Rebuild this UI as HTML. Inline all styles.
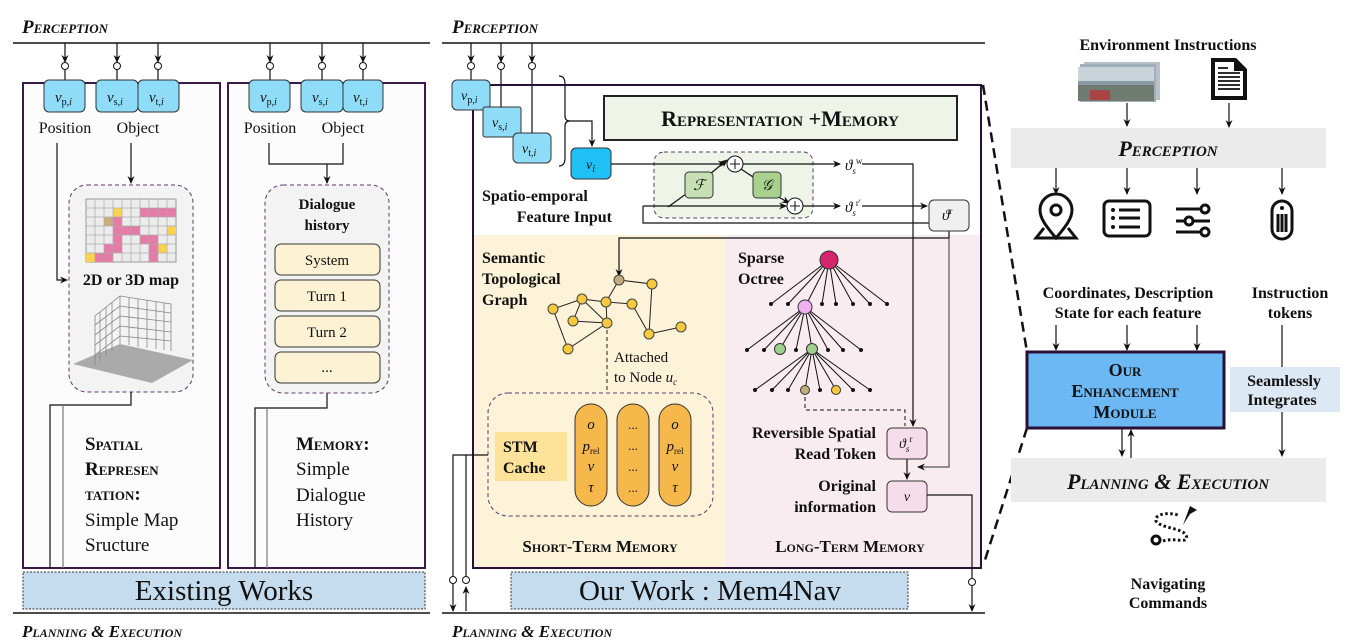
<!DOCTYPE html>
<html><head><meta charset="utf-8"><style>
body{margin:0;background:#fff}
svg{display:block}
text{font-family:"Liberation Serif",serif;fill:#111}
.sc{font-variant:small-caps;font-weight:bold}
.it{font-style:italic}
.b{font-weight:bold}
</style></head><body>
<svg width="1359" height="643" viewBox="0 0 1359 643" xmlns="http://www.w3.org/2000/svg">
<defs>
<marker id="a" markerWidth="8" markerHeight="8" refX="7" refY="4" orient="auto" markerUnits="userSpaceOnUse"><path d="M0,0.5 L8,4 L0,7.5 L2.5,4z" fill="#111"/></marker>
</defs>
<g stroke="#111" stroke-width="1.2" fill="none">
<line x1="13" y1="43" x2="430" y2="43" stroke-width="1.5"/>
<line x1="442" y1="43" x2="985" y2="43" stroke-width="1.5"/>
<line x1="13" y1="613" x2="430" y2="613" stroke-width="1.5"/>
<line x1="442" y1="613" x2="985" y2="613" stroke-width="1.5"/>
</g>
<text x="22" y="33" class="sc it" font-size="19">Perception</text>
<text x="452" y="33" class="sc it" font-size="19">Perception</text>
<text x="22" y="637" class="sc it" font-size="17">Planning &amp; Execution</text>
<text x="452" y="637" class="sc it" font-size="17">Planning &amp; Execution</text>

<!-- Left boxes -->
<rect x="23" y="83" width="197" height="485" fill="#fcfcfc" stroke="#3b1a4a" stroke-width="2"/>
<rect x="228" y="83" width="197" height="485" fill="#fcfcfc" stroke="#3b1a4a" stroke-width="2"/>
<g stroke="#111" stroke-width="1.2" fill="none" marker-end="url(#a)">
<path d="M65,43V62"/><path d="M117,43V62"/><path d="M158,43V62"/><path d="M270,43V62"/><path d="M322,43V62"/><path d="M363,43V62"/>
</g>
<g stroke="#111" stroke-width="1.2" fill="none">
<path d="M65,70V80 M117,70V80 M158,70V80 M270,70V80 M322,70V80 M363,70V80"/>
</g>
<g fill="#fff" stroke="#111" stroke-width="1"><circle cx="65" cy="66" r="3.5"/><circle cx="117" cy="66" r="3.5"/><circle cx="158" cy="66" r="3.5"/><circle cx="270" cy="66" r="3.5"/><circle cx="322" cy="66" r="3.5"/><circle cx="363" cy="66" r="3.5"/></g>
<g fill="#8fdcf8" stroke="#333" stroke-width="1">
<rect x="44" y="80" width="41" height="32" rx="5"/><rect x="96" y="80" width="42" height="32" rx="5"/><rect x="138" y="80" width="41" height="32" rx="5"/>
<rect x="249" y="80" width="41" height="32" rx="5"/><rect x="301" y="80" width="42" height="32" rx="5"/><rect x="343" y="80" width="40" height="32" rx="5"/>
</g>
<g font-size="15" class="it">
<text x="55" y="102">v<tspan font-size="10" font-style="normal" dy="3">p,</tspan><tspan font-size="10">i</tspan></text>
<text x="107" y="102">v<tspan font-size="10" font-style="normal" dy="3">s,</tspan><tspan font-size="10">i</tspan></text>
<text x="149" y="102">v<tspan font-size="10" font-style="normal" dy="3">t,</tspan><tspan font-size="10">i</tspan></text>
<text x="260" y="102">v<tspan font-size="10" font-style="normal" dy="3">p,</tspan><tspan font-size="10">i</tspan></text>
<text x="312" y="102">v<tspan font-size="10" font-style="normal" dy="3">s,</tspan><tspan font-size="10">i</tspan></text>
<text x="353" y="102">v<tspan font-size="10" font-style="normal" dy="3">t,</tspan><tspan font-size="10">i</tspan></text>
</g>
<g font-size="16" text-anchor="middle">
<text x="65" y="133">Position</text><text x="138" y="133">Object</text>
<text x="270" y="133">Position</text><text x="343" y="133">Object</text>
</g>
<rect x="69" y="185" width="124" height="207" rx="18" fill="#f3f3f3" stroke="#5a3a6a" stroke-dasharray="4,3"/>
<g stroke="#111" stroke-width="1.2" fill="none">
<path d="M57,143V280H67" marker-end="url(#a)"/>
<path d="M131,143V183" marker-end="url(#a)"/>
<path d="M131,392V405H50V568"/>
<path d="M63,405V568" stroke="#777"/>
<path d="M269,143V164H343V143"/>
<path d="M327,164V183" marker-end="url(#a)"/>
<path d="M327,393V408H255V568"/>
<path d="M267,408V568" stroke="#777"/>
</g>
<!-- grid -->
<g>
<rect x="86" y="199" width="90" height="63" fill="#ececec" stroke="#999"/>
<g fill="#e67ba8"><rect x="140" y="208" width="36" height="9"/><rect x="113" y="217" width="9" height="9"/><rect x="113" y="226" width="27" height="9"/><rect x="113" y="235" width="9" height="9"/><rect x="104" y="244" width="18" height="9"/><rect x="95" y="253" width="18" height="9"/><rect x="140" y="235" width="18" height="9"/><rect x="149" y="244" width="9" height="18"/></g>
<g fill="#f9d34e"><rect x="113" y="208" width="9" height="9"/><rect x="167" y="226" width="9" height="9"/><rect x="158" y="244" width="9" height="9"/><rect x="86" y="253" width="9" height="9"/></g>
<rect x="104" y="217" width="9" height="9" fill="#c9b07a"/>
<path d="M95,199V262M104,199V262M113,199V262M122,199V262M131,199V262M140,199V262M149,199V262M158,199V262M167,199V262M86,208H176M86,217H176M86,226H176M86,235H176M86,244H176M86,253H176" stroke="#aaa" stroke-width="0.7"/>
</g>
<text x="131" y="285" class="b" font-size="16" text-anchor="middle">2D or 3D map</text>
<!-- 3d -->
<path d="M73,364 L120,344 L193,360 L152,383z" fill="#aaa"/>
<g stroke="#888" stroke-width="0.8" fill="none">
<path d="M95,365V316L120,296V344 M120,296L171,304V351"/>
<path d="M100,361V312M106,356V307M112,351V302M129,297V345M138,299V347M147,300V348M156,301V349M164,303V350"/>
<path d="M95,325L120,306L171,313M95,335L120,316L171,322M95,345L120,326L171,332M95,355L120,336L171,341"/>
</g>
<!-- dialogue -->
<rect x="265" y="185" width="124" height="208" rx="18" fill="#f3f3f3" stroke="#5a3a6a" stroke-dasharray="4,3"/>
<text x="327" y="209" class="b" font-size="15" text-anchor="middle">Dialogue</text>
<text x="327" y="230" class="b" font-size="15" text-anchor="middle">history</text>
<g fill="#fdf3d4" stroke="#333"><rect x="275" y="244" width="105" height="31" rx="6"/><rect x="275" y="280" width="105" height="31" rx="6"/><rect x="275" y="316" width="105" height="31" rx="6"/><rect x="275" y="352" width="105" height="31" rx="6"/></g>
<g font-size="15" text-anchor="middle"><text x="327" y="265">System</text><text x="327" y="301">Turn 1</text><text x="327" y="337">Turn 2</text><text x="327" y="372">...</text></g>
<g font-size="19"><text x="85" y="450" class="sc">Spatial</text><text x="85" y="475" class="sc">Represen</text><text x="85" y="500" class="sc">tation:</text><text x="85" y="526">Simple Map</text><text x="85" y="551">Sructure</text>
<text x="296" y="450" class="sc">Memory:</text><text x="296" y="475">Simple</text><text x="296" y="501">Dialogue</text><text x="296" y="526">History</text></g>
<rect x="23" y="572" width="402" height="37" fill="#c5dcef" stroke="#333" stroke-dasharray="2,1.5"/>
<text x="224" y="600" font-size="29" text-anchor="middle">Existing Works</text>

<!-- Middle -->
<rect x="474" y="235" width="251" height="332" fill="#fdf3d9"/>
<rect x="725" y="235" width="255" height="332" fill="#f9ecf0"/>
<rect x="473" y="85" width="508" height="483" fill="none" stroke="#2a1035" stroke-width="2"/>
<g stroke="#111" stroke-width="1.2" fill="none" marker-end="url(#a)">
<path d="M471,43V62"/><path d="M501,43V62"/><path d="M532,43V62"/>
</g>
<path d="M471,70V80 M501,70V107 M532,70V133" stroke="#111" stroke-width="1.2" fill="none"/>
<g fill="#fff" stroke="#111"><circle cx="471" cy="66" r="3.5"/><circle cx="501" cy="66" r="3.5"/><circle cx="532" cy="66" r="3.5"/></g>
<g fill="#8fdcf8" stroke="#333"><rect x="452" y="80" width="38" height="30" rx="5"/><rect x="483" y="107" width="38" height="30" rx="2"/><rect x="513" y="133" width="38" height="30" rx="5"/></g>
<g font-size="14" class="it">
<text x="461" y="100">v<tspan font-size="10" font-style="normal" dy="3">p,</tspan><tspan font-size="10">i</tspan></text>
<text x="492" y="127">v<tspan font-size="10" font-style="normal" dy="3">s,</tspan><tspan font-size="10">i</tspan></text>
<text x="522" y="153">v<tspan font-size="10" font-style="normal" dy="3">t,</tspan><tspan font-size="10">i</tspan></text>
</g>
<path d="M559,76 Q565,76 565,84 V116 Q565,121 570,121 Q565,121 565,126 V158 Q565,166 559,166" fill="none" stroke="#111" stroke-width="1.2"/>
<path d="M570,121H592V146" fill="none" stroke="#111" stroke-width="1.2" marker-end="url(#a)"/>
<rect x="571" y="148" width="40" height="31" rx="5" fill="#1ec0f5" stroke="#333"/>
<text x="586" y="169" font-size="14" class="it">v<tspan font-size="10" dy="3">i</tspan></text>
<text x="482" y="201" class="b" font-size="16">Spatio-emporal</text>
<text x="612" y="222" class="b" font-size="16" text-anchor="end">Feature Input</text>
<rect x="604" y="96" width="353" height="44" fill="#eef4e8" stroke="#222" stroke-width="2"/>
<text x="780" y="126" class="sc" font-size="22" text-anchor="middle">Representation +Memory</text>
<rect x="654" y="152" width="159" height="66" rx="10" fill="#eef4e8" stroke="#5a3a6a" stroke-dasharray="4,3"/>
<g stroke="#111" stroke-width="1.2" fill="none">
<path d="M611,164H725" marker-end="url(#a)"/>
<path d="M743,164H840" marker-end="url(#a)"/>
<path d="M862,164H913V426" marker-end="url(#a)"/>
<path d="M668,207L686,194"/>
<path d="M710,174L727,160" marker-end="url(#a)"/>
<path d="M741,169L753,177"/>
<path d="M777,196L789,203" marker-end="url(#a)"/>
<path d="M643,206H786" marker-end="url(#a)"/>
<path d="M803,206H840" marker-end="url(#a)"/>
<path d="M862,206H927" marker-end="url(#a)"/>
<path d="M643,206V223H929"/>
<path d="M949,231V238H619V276" marker-end="url(#a)"/>
<path d="M949,238V467H918" stroke="#555" marker-end="url(#a)"/>
<path d="M907,459V479" marker-end="url(#a)"/>
</g>
<g fill="#fff" stroke="#111"><circle cx="735" cy="164" r="8"/><circle cx="795" cy="206" r="8"/></g>
<path d="M735,159V169M730,164H740M795,201V211M790,206H800" stroke="#111"/>
<rect x="685" y="172" width="28" height="26" rx="4" fill="#c6e0b4" stroke="#333"/>
<rect x="753" y="172" width="28" height="26" rx="4" fill="#a9d18e" stroke="#333"/>
<text x="699" y="190" font-size="15" class="it" text-anchor="middle">ℱ</text>
<text x="767" y="190" font-size="15" class="it" text-anchor="middle">𝒢</text>
<text x="845" y="170" font-size="15" class="it">ϑ<tspan font-size="9" dy="4">s</tspan><tspan font-size="9" dy="-10" font-style="normal">w</tspan></text>
<text x="845" y="212" font-size="15" class="it">ϑ<tspan font-size="9" dy="4">s</tspan><tspan font-size="9" dy="-10" font-style="normal">r′</tspan></text>
<rect x="929" y="200" width="40" height="31" rx="5" fill="#f0f0f0" stroke="#333"/>
<text x="942" y="220" font-size="15" class="it">ϑ<tspan font-size="9" dy="-6" font-style="normal">r</tspan></text>
<g class="b" font-size="16"><text x="482" y="263">Semantic</text><text x="482" y="284">Topological</text><text x="482" y="305">Graph</text>
<text x="738" y="263">Sparse</text><text x="738" y="284">Octree</text></g>
<!-- graph -->
<g stroke="#222" stroke-width="1" fill="none">
<path d="M619,280L652,284L649,334L681,327M619,280L606,302L632,304L649,334M606,302L582,299L553,309L568,349L607,323L573,321L582,299L607,323L606,302"/>
<path d="M607,323V392" stroke-dasharray="4,3"/>
</g>
<g fill="#f9c93d" stroke="#444"><circle cx="652" cy="284" r="5"/><circle cx="582" cy="299" r="5"/><circle cx="606" cy="302" r="5"/><circle cx="632" cy="304" r="5"/><circle cx="553" cy="309" r="5"/><circle cx="573" cy="321" r="5"/><circle cx="607" cy="323" r="5"/><circle cx="649" cy="334" r="5"/><circle cx="681" cy="327" r="5"/><circle cx="568" cy="349" r="5"/></g>
<circle cx="619" cy="280" r="5" fill="#c4ab7a" stroke="#444"/>
<text x="614" y="362" font-size="15">Attached</text>
<text x="614" y="382" font-size="15">to Node <tspan class="it">u<tspan font-size="9" dy="3">c</tspan></tspan></text>
<rect x="488" y="393" width="225" height="123" rx="20" fill="none" stroke="#5a3a6a" stroke-dasharray="4,3"/>
<rect x="495" y="432" width="72" height="49" fill="#fde29a"/>
<text x="503" y="452" class="b" font-size="16">STM</text><text x="503" y="473" class="b" font-size="16">Cache</text>
<g fill="#f7b84b" stroke="#333"><rect x="575" y="404" width="32" height="102" rx="16"/><rect x="617" y="404" width="32" height="102" rx="16"/><rect x="659" y="404" width="32" height="102" rx="16"/></g>
<g font-size="15" class="it" text-anchor="middle">
<text x="591" y="429">o</text><text x="591" y="451">p<tspan font-size="9" font-style="normal" dy="3">rel</tspan></text><text x="591" y="471">v</text><text x="591" y="492">τ</text>
<text x="675" y="429">o</text><text x="675" y="451">p<tspan font-size="9" font-style="normal" dy="3">rel</tspan></text><text x="675" y="471">v</text><text x="675" y="492">τ</text>
</g>
<g font-size="13" text-anchor="middle"><text x="633" y="429">...</text><text x="633" y="450">...</text><text x="633" y="471">...</text><text x="633" y="492">...</text></g>
<text x="600" y="552" class="sc" font-size="17" text-anchor="middle">Short-Term Memory</text>
<text x="850" y="552" class="sc" font-size="17" text-anchor="middle">Long-Term Memory</text>
<!-- octree -->
<g stroke="#111" stroke-width="1" fill="none">
<path d="M829,260L771,304M829,260L788,304M829,260L805,307M829,260L822,304M829,260L836,304M829,260L853,304M829,260L870,304M829,260L887,304"/>
<path d="M805,307L747,350M805,307L764,350M805,307L780,349M805,307L796,350M805,307L812,349M805,307L828,350M805,307L843,350M805,307L861,350"/>
<path d="M812,349L755,390M812,349L772,390M812,349L788,390M812,349L805,390M812,349L820,390M812,349L836,390M812,349L853,390M812,349L870,390"/>
<path d="M805,390V410H905V426" stroke-dasharray="4,3"/>
</g>
<g fill="#111"><circle cx="771" cy="304" r="2"/><circle cx="788" cy="304" r="2"/><circle cx="822" cy="304" r="2"/><circle cx="836" cy="304" r="2"/><circle cx="853" cy="304" r="2"/><circle cx="870" cy="304" r="2"/><circle cx="887" cy="304" r="2"/>
<circle cx="747" cy="350" r="2"/><circle cx="764" cy="350" r="2"/><circle cx="796" cy="350" r="2"/><circle cx="828" cy="350" r="2"/><circle cx="843" cy="350" r="2"/><circle cx="861" cy="350" r="2"/>
<circle cx="755" cy="390" r="2"/><circle cx="772" cy="390" r="2"/><circle cx="788" cy="390" r="2"/><circle cx="820" cy="390" r="2"/><circle cx="853" cy="390" r="2"/><circle cx="870" cy="390" r="2"/></g>
<circle cx="829" cy="260" r="9" fill="#d6246e" stroke="#333"/>
<circle cx="805" cy="307" r="7" fill="#eeb0f0" stroke="#333"/>
<circle cx="780" cy="349" r="5.5" fill="#9fd08a" stroke="#333"/><circle cx="812" cy="349" r="5.5" fill="#9fd08a" stroke="#333"/>
<circle cx="805" cy="390" r="4.5" fill="#c4ab7a" stroke="#333"/><circle cx="836" cy="390" r="4.5" fill="#f9c93d" stroke="#333"/>
<g class="b" font-size="16" text-anchor="end"><text x="876" y="438">Reversible Spatial</text><text x="876" y="459">Read Token</text><text x="876" y="491">Original</text><text x="876" y="512">information</text></g>
<rect x="887" y="428" width="40" height="31" rx="5" fill="#f7dde9" stroke="#333"/>
<text x="899" y="448" font-size="14" class="it">ϑ<tspan font-size="9" dy="4">s</tspan><tspan font-size="9" dy="-10" font-style="normal">r</tspan></text>
<rect x="887" y="481" width="40" height="31" rx="5" fill="#f7dde9" stroke="#333"/>
<text x="907" y="501" font-size="14" class="it" text-anchor="middle">v</text>
<g stroke="#111" stroke-width="1.2" fill="none">
<path d="M927,495H972V578"/><path d="M972,586V611" marker-end="url(#a)"/>
<path d="M488,455H453V576"/><path d="M453,584V611" marker-end="url(#a)"/>
<path d="M466,455V576"/><path d="M466,611V587" marker-end="url(#a)"/>
</g>
<g fill="#fff" stroke="#111"><circle cx="972" cy="582" r="3.5"/><circle cx="453" cy="580" r="3.5"/><circle cx="466" cy="580" r="3.5"/></g>
<rect x="511" y="572" width="397" height="37" fill="#c5dcef" stroke="#333" stroke-dasharray="2,1.5"/>
<text x="710" y="600" font-size="29" text-anchor="middle">Our Work : Mem4Nav</text>
<path d="M983,85L1027,352 M1027,428L985,560" stroke="#111" stroke-width="2.5" stroke-dasharray="10,6" fill="none"/>

<!-- Right panel -->
<text x="1168" y="50" class="b" font-size="16" text-anchor="middle">Environment Instructions</text>
<g><rect x="1084" y="62" width="76" height="38" fill="#b8c0c8"/><rect x="1080" y="64" width="76" height="38" fill="#9fb0bc"/><rect x="1078" y="67" width="76" height="34" fill="#8a9aa6"/><rect x="1078" y="67" width="76" height="14" fill="#c9d3da"/><rect x="1078" y="85" width="76" height="16" fill="#6f7a70"/><rect x="1090" y="90" width="20" height="10" fill="#a44"/></g>
<path d="M1211,58H1236L1247,69V100H1211z" fill="#111"/>
<path d="M1215,62H1234V71H1243V96H1215z" fill="#fff"/>
<path d="M1218,73H1240M1218,77H1240M1218,81H1240M1218,85H1240M1218,89H1240M1218,68H1228" stroke="#111" stroke-width="1.8"/>
<g stroke="#111" stroke-width="1.2" fill="none" marker-end="url(#a)">
<path d="M1127,103V126"/><path d="M1229,103V127"/>
<path d="M1056,168V194"/><path d="M1127,168V194"/><path d="M1197,168V194"/><path d="M1282,168V194"/>
<path d="M1056,325V350"/><path d="M1127,325V350"/><path d="M1197,325V350"/>
<path d="M1282,412V456"/>
<path d="M1122,428V456"/><path d="M1131,458V430"/>
</g>
<path d="M1282,325V367" stroke="#111" stroke-width="1.2"/>
<rect x="1011" y="128" width="315" height="40" fill="#ebebeb"/>
<text x="1168" y="156" class="sc it" font-size="22" text-anchor="middle">Perception</text>
<!-- icons -->
<g fill="none" stroke="#111" stroke-width="3">
<path d="M1056,238 C1045,225 1040,218 1040,210 A16,16 0 0 1 1072,210 C1072,218 1067,225 1056,238z"/>
<circle cx="1056" cy="210" r="5"/>
<path d="M1044,228L1036,238H1076L1068,228"/>
<rect x="1104" y="201" width="46" height="35" rx="5"/>
<path d="M1119,210H1140M1119,218H1140M1119,227H1140"/>
<path d="M1176,209H1210M1176,221H1210M1176,232H1210"/>
<rect x="1272" y="201" width="20" height="38" rx="10"/>
<path d="M1278,214V232M1282,214V232M1286,214V232"/>
</g>
<g fill="#fff" stroke="#111" stroke-width="3"><circle cx="1205" cy="209" r="4"/><circle cx="1189" cy="221" r="4"/><circle cx="1205" cy="232" r="4"/></g>
<g fill="#111"><circle cx="1113" cy="210" r="2"/><circle cx="1113" cy="218" r="2"/><circle cx="1113" cy="227" r="2"/><circle cx="1282" cy="208" r="2"/></g>
<g class="b" font-size="16" text-anchor="middle">
<text x="1128" y="298">Coordinates, Description</text><text x="1128" y="318">State for each feature</text>
<text x="1290" y="298">Instruction</text><text x="1290" y="318">tokens</text>
</g>
<rect x="1027" y="352" width="197" height="76" fill="#6cb8f5" stroke="#2a1035" stroke-width="3"/>
<g class="sc" font-size="18" text-anchor="middle"><text x="1125" y="376">Our</text><text x="1125" y="397">Enhancement</text><text x="1125" y="418">Module</text></g>
<rect x="1230" y="367" width="110" height="45" fill="#dce9f5"/>
<text x="1284" y="386" class="b" font-size="16" text-anchor="middle">Seamlessly</text>
<text x="1282" y="405" class="b" font-size="16" text-anchor="middle">Integrates</text>
<rect x="1011" y="458" width="315" height="44" fill="#ebebeb"/>
<text x="1168" y="489" class="sc it" font-size="22" text-anchor="middle">Planning &amp; Execution</text>
<path d="M1163,541 C1175,537 1190,545 1186,535 C1182,528 1160,528 1156,521 C1154,514 1168,512 1178,515" fill="none" stroke="#111" stroke-width="3" stroke-dasharray="2.5,2.5"/>
<circle cx="1156" cy="540" r="4" fill="none" stroke="#111" stroke-width="3"/>
<path d="M1183,525L1190,506L1197,510L1190,514z" fill="#111"/>
<text x="1168" y="589" class="b" font-size="16" text-anchor="middle">Navigating</text>
<text x="1168" y="608" class="b" font-size="16" text-anchor="middle">Commands</text>
</svg>
</body></html>
